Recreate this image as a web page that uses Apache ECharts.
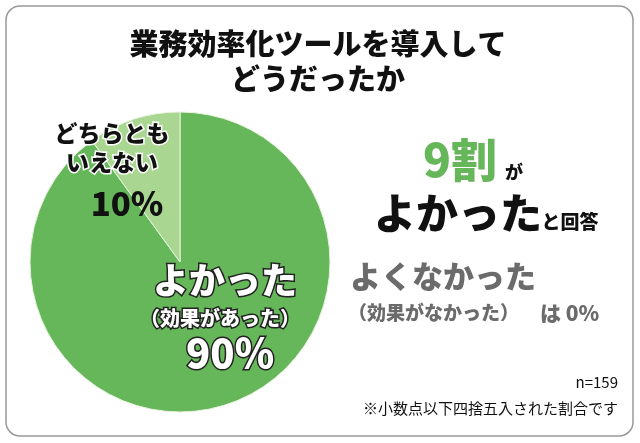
<!DOCTYPE html>
<html><head><meta charset="utf-8">
<script src="https://cdn.jsdelivr.net/npm/echarts@6/dist/echarts.min.js"></script>
<style>html,body{margin:0;padding:0;background:#fff}#c{width:640px;height:443px}</style>
</head><body><div id="c"></div>
<script>
const categories = ['よかった（効果があった）', 'どちらともいえない', 'よくなかった（効果がなかった）'];
const values = [90, 10, 0];
const colors = ['#66b65a', '#a9d690', '#888888'];
const F = '"Noto Sans CJK JP", sans-serif';
const chart = echarts.init(document.getElementById('c'));
const t = (x, y, text, size, fill, extra, align) => ({type:'text', x, y, z:100, zlevel:1, style:Object.assign({text, font:'900 '+size+'px '+F, fill, textAlign:align||'center', textVerticalAlign:'middle'}, extra||{})});
chart.setOption({
  animation:false,
  series:[{type:'pie', center:[180,262], radius:[0,150], startAngle:90, clockwise:true,
    label:{show:false}, labelLine:{show:false}, silent:true,
    itemStyle:{borderColor:'#e6f3dd', borderWidth:1},
    data: categories.map((n,i)=>({name:n, value:values[i], itemStyle:{color:colors[i]}})).filter(d=>d.value>0)
  }],
  graphic:[
    {type:'rect', shape:{x:6,y:6,width:627,height:430,r:14}, style:{fill:'none', stroke:'#999', lineWidth:1.5}},
    t(318,44,'業務効率化ツールを導入して',29,'#111'),
    t(318,79,'どうだったか',29,'#111'),
    t(112,133,'どちらとも',23,'#111',{stroke:'#fff',lineWidth:3}),
    t(112,162,'いえない',23,'#111',{stroke:'#fff',lineWidth:3}),
    t(127,203,'10%',33,'#111'),
    t(225,280,'よかった',36,'#fff',{stroke:'#222',lineWidth:3}),
    t(220,318,'（効果があった）',20,'#fff',{stroke:'#222',lineWidth:3}),
    t(230,353,'90%',40,'#fff',{stroke:'#222',lineWidth:3}),
    t(497,160,'9割',46,'#66b65a',null,'right'),
    t(514,172,'が',18,'#111'),
    t(458,213,'よかった',42,'#111'),
    t(570,222,'と回答',19,'#111'),
    t(350,276,'よくなかった',31,'#6b6b6b',null,'left'),
    t(348,313,'（効果がなかった）',19,'#6b6b6b',null,'left'),
    t(540,313,'は 0%',21,'#6b6b6b',null,'left'),
    {type:'text', x:618, y:382, z:100, style:{text:'n=159', font:'400 15px '+F, fill:'#111', textAlign:'right', textVerticalAlign:'middle'}},
    {type:'text', x:618, y:408, z:100, style:{text:'※小数点以下四捨五入された割合です', font:'400 15px '+F, fill:'#111', textAlign:'right', textVerticalAlign:'middle'}}
  ]
});
</script></body></html>
